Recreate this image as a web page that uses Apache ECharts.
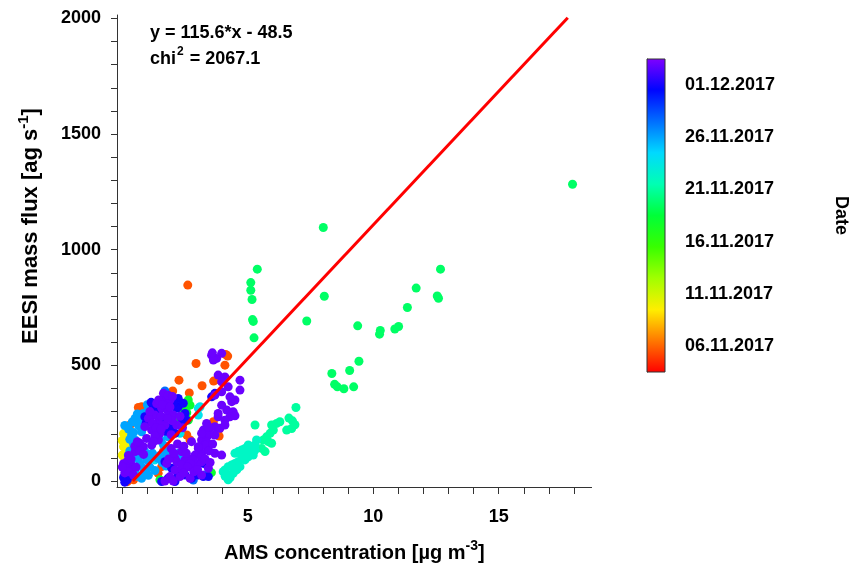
<!DOCTYPE html>
<html>
<head>
<meta charset="utf-8">
<script src="https://cdn.jsdelivr.net/npm/echarts@6/dist/echarts.min.js"></script>
<style>
html,body{margin:0;padding:0;background:#fff;}
#chart{width:860px;height:569px;}
</style>
</head>
<body>
<div id="chart"></div>
<script>
// ---------- DATA (AMS concentration [ug m-3], EESI mass flux [ag s-1]) ----------
// date value = days since 01.11.2017 00:00
const orangeNov05 = [[2.61,847],[2.94,508],[2.26,436],[3.18,412],[2.67,381],[2.01,389],[4.09,501],[4.12,547],[4.2,540],[3.64,432],[3.89,436],[1.69,379],[0.77,321],[0.64,318],[0.31,242],[3.63,256],[3.85,222],[3.86,194],[2.57,199],[2.70,177],[1.57,62],[1.43,33],[0.2,-3],[0.45,5],[1.63,127]];
const yellowNov09 = [[0.05,205],[0.15,190],[0.0,175],[0.2,168],[0.05,148],[0.15,130],[0.0,112],[0.1,95],[0.22,150]];
const greenNov17 = [[2.63,350],[2.70,328],[2.43,307],[2.37,271],[2.63,263],[2.50,280],[2.57,295],[2.2,255],[3.55,36],[1.5,5]];
const springNov19 = [[17.94,1283],[8.01,1096],[5.38,916],[5.12,858],[5.12,825],[5.17,785],[5.19,698],[5.22,690],[5.25,619],[8.05,799],[7.35,692],[12.68,916],[12.6,790],[12.55,800],[11.71,834],[11.36,750],[11.01,668],[10.86,657],[10.28,651],[10.25,635],[9.38,671],[9.43,518],[9.06,478],[9.22,407],[8.35,465],[8.46,418],[8.57,407],[8.83,399]];
const tealNov20 = [[6.92,318],[6.64,272],[6.78,260],[6.88,243],[6.55,220],[6.75,227],[6.28,256],[6.15,249],[5.95,242],[6.02,220],[5.89,206],[5.29,242],[5.75,191],[5.62,177],[5.82,170],[5.95,163],[5.55,141],[5.69,127]];
const tealNov21 = [[5.35,177],[5.29,156],[5.16,148],[5.02,156],[4.89,141],[4.76,134],[4.62,127],[4.49,120],[5.09,120],[5.22,112],[5.29,134],[5.02,105],[4.89,91],[4.76,98],[4.62,83],[4.49,76],[4.36,69],[4.22,62],[4.09,48],[4.02,40],[4.22,26],[4.42,33],[4.56,48],[4.69,62],[4.82,112],[4.96,127],[4.22,5],[4.3,15],[4.1,20],[4.45,55]];
const cyanNov23 = [[3.03,314],[3.10,321],[3.03,285],[1.04,98],[1.30,91],[2.30,206]];
const lightBlueNov25 = [[0.51,271],[0.64,242],[0.77,213],[0.37,199],[0.51,177],[0.90,127],[1.17,112],[0.97,91],[0.64,98],[0.24,112],[0.84,55],[0.51,40],[0.77,12],[1.04,25],[1.04,314],[0.84,292],[1.0,330],[1.44,98],[1.70,120],[1.83,191],[1.55,175],[1.2,120],[1.4,100],[1.6,80],[1.75,65],[2.25,120],[2.3,95],[0.1,240],[0.25,225],[0.4,255],[0.6,290],[0.3,130],[0.45,160],
  [0.3,180],[0.45,210],[0.7,270],[0.75,230],[0.6,140],[0.4,95],[0.55,115],[0.7,75],[1.1,60],[1.3,45],[1.5,110],[1.85,140],[2.0,120],[1.65,155],[0.9,30],[0.6,20]];
const midBlueNov27 = [[2.83,4],[3.22,23],[1.70,389],[3.29,26]];
const blueNov30 = [[1.24,321],[2.23,321],[1.63,249],[2.50,292],[2.10,206],[2.56,263],[0.90,278],[2.23,357],[2.43,336],[2.17,314],[3.56,364],[3.69,379],[1.70,83],[1.97,55],[2.23,26],[1.83,12],[2.50,26],[2.76,12],[3.03,26],[2.10,-2],[1.57,-2],[3.23,19],[3.43,19],[3.23,76],[0.05,15],[0.2,5],[0.3,25],[0.1,-5],[1.35,300],[1.9,230],
  [1.45,320],[1.15,340],[2.05,340],[1.75,215],[0.95,250],[2.35,250]];
const violetDec02 = [[1.70,357],[1.90,350],[1.57,314],[1.83,300],[2.03,285],[1.30,285],[1.04,271],[1.44,256],[1.70,242],[2.17,242],[1.17,220],[1.50,206],[0.97,184],[0.70,163],[0.51,127],[0.84,148],[1.17,155],[1.44,177],[1.83,335],[1.37,335],[1.64,379],[1.83,371],[2.0,365],[1.45,350],
  [1.1,300],[1.2,250],[1.35,230],[1.55,280],[1.6,330],[1.9,320],[2.0,260],[1.95,200],[1.3,195],[0.9,235],[1.55,225],[1.8,270],[2.3,280],[2.4,230],[1.25,170],
  [3.56,544],[3.76,530],[3.96,552],[3.63,523],[3.59,554],[3.82,458],[4.09,450],[3.96,429],[4.69,393],[4.69,436],[4.49,350],[4.36,343],[4.22,407],[4.29,364],[4.16,307],[4.42,299],[4.29,278],[3.82,278],[4.09,263],[3.69,235],[3.89,228],[4.09,242],[3.36,249],[3.49,228],[3.23,220],[3.29,191],[3.43,199],[3.16,177],[3.69,120],[3.96,112],[3.82,292],[4.49,282],[3.36,148],[3.16,120],[3.96,386],[3.69,371],[3.96,328],[3.43,235],[3.16,206],[3.69,199],[3.36,170],
  [2.76,170],[3.03,141],[3.29,155],[2.36,127],[2.63,98],[2.90,69],[3.16,83],[3.43,55],[1.77,76],[2.10,48],[2.30,19],[1.90,19],[2.17,83],[2.50,91],[2.76,62],[2.96,76],[3.16,26],[2.70,12],[2.37,55],[1.70,0],[2.03,0],[2.36,69],[2.10,98],[3.03,148],[2.9,112],[2.83,91],[3.16,105],[2.70,76],
  [1.95,140],[2.2,160],[2.45,150],[2.55,120],[2.6,60],[2.85,40],[3.0,50],[2.45,35],[1.85,95],[2.05,120],[3.3,95],[3.45,130],[3.6,160],[3.5,80],
  [0.05,75],[0.2,85],[0.35,70],[0.15,55],[0.4,50],[0.1,35],[0.55,60],[0.5,150],[0.7,130],[0.85,115],[0.6,170],[0.25,40],[0.35,95],[0.0,60],[0.45,25],[0.25,110]];

const groupArrays = [orangeNov05, yellowNov09, greenNov17, springNov19, tealNov20, tealNov21, cyanNov23, lightBlueNov25, midBlueNov27, blueNov30, violetDec02];
const groupDays   = [4.6, 8.8, 17.0, 18.6, 20.0, 21.2, 22.8, 25.0, 26.5, 30.0, 32.0];

const fitLine = [[0.42, 0], [17.75, 2003]];

const xTicks = [0,1,2,3,4,5,6,7,8,9,10,11,12,13,14,15,16,17,18];
const xLabels = [0, 5, 10, 15];
const yTicks = [0,100,200,300,400,500,600,700,800,900,1000,1100,1200,1300,1400,1500,1600,1700,1800,1900,2000];
const yLabels = [0, 500, 1000, 1500, 2000];

const colorbarSpan = [[0, 2.5, 32.5]];
const colorbarTicks = [5, 10, 15, 20, 25, 30];
const colorbarLabels = ['06.11.2017', '11.11.2017', '16.11.2017', '21.11.2017', '26.11.2017', '01.12.2017'];
const rainbow = ['#ff0000','#ff7700','#ffee00','#a1ff00','#38ff00','#00ff38','#00ffb3','#00d9ff','#006eff','#0005ff','#8000ff'];

// ---------- CHART ----------
const FONT = '"Liberation Sans", Arial, sans-serif';
const scatterData = [];
groupArrays.forEach((arr, i) => arr.forEach(p => scatterData.push([p[0], p[1], groupDays[i]])));

const chart = echarts.init(document.getElementById('chart'), null, {renderer: 'canvas'});
const labelStyle = {fontFamily: FONT, fontWeight: 'bold', fontSize: 18, color: '#000'};
const nameRich = {
  t: {fontFamily: FONT, fontWeight: 'bold', fontSize: 20, color: '#000', lineHeight: 24, verticalAlign: 'bottom'},
  s: {fontFamily: FONT, fontWeight: 'bold', fontSize: 14, color: '#000', lineHeight: 14, verticalAlign: 'top', padding: [0, 0, 12, 0]}
};
const yNameRich = {
  t: {fontFamily: FONT, fontWeight: 'bold', fontSize: 22, color: '#000', lineHeight: 26, verticalAlign: 'bottom'},
  s: {fontFamily: FONT, fontWeight: 'bold', fontSize: 15, color: '#000', lineHeight: 15, verticalAlign: 'top', padding: [0, 0, 13, 0]}
};

const option = {
  backgroundColor: '#fff',
  animation: false,
  grid: [
    {left: 117, top: 15, width: 474.6, height: 472, outerBoundsMode: 'none', containLabel: false},
    {left: 647, top: 59, width: 18, height: 313, outerBoundsMode: 'none', containLabel: false}
  ],
  xAxis: [
    {
      type: 'value', gridIndex: 0, min: -0.21, max: 18.7,
      axisLine: {show: true, onZero: false, lineStyle: {color: '#333', width: 1}},
      axisTick: {show: true, inside: false, length: 7, customValues: xTicks, lineStyle: {color: '#333'}},
      axisLabel: Object.assign({customValues: xLabels, margin: 21, formatter: v => String(v)}, labelStyle),
      splitLine: {show: false},
      name: '{t|AMS concentration [µg m}{s|-3}{t|]}',
      nameLocation: 'middle', nameGap: 52,
      nameTextStyle: {rich: nameRich}
    },
    {type: 'value', gridIndex: 1, min: 0, max: 1, show: false}
  ],
  yAxis: [
    {
      type: 'value', gridIndex: 0, min: -26, max: 2015,
      axisLine: {show: true, onZero: false, lineStyle: {color: '#333', width: 1}},
      axisTick: {show: true, inside: false, length: 6, customValues: yTicks, lineStyle: {color: '#333'}},
      axisLabel: Object.assign({customValues: yLabels, margin: 16, formatter: v => String(v)}, labelStyle),
      splitLine: {show: false},
      name: '{t|EESI mass flux [ag s}{s|-1}{t|]}',
      nameLocation: 'middle', nameGap: 75,
      nameTextStyle: {rich: yNameRich, padding: [0, 0, 0, 50]}
    },
    {
      type: 'value', gridIndex: 1, min: 2.5, max: 32.5, position: 'right',
      axisLine: {show: true, lineStyle: {color: '#333', width: 1}},
      axisTick: {show: true, inside: false, length: 12, customValues: colorbarTicks, lineStyle: {color: '#000'}},
      axisLabel: Object.assign({customValues: colorbarTicks, margin: 20,
        formatter: v => colorbarLabels[colorbarTicks.indexOf(v)]}, labelStyle),
      splitLine: {show: false},
      name: 'Date', nameLocation: 'middle', nameRotate: -90, nameGap: 167,
      nameTextStyle: {fontFamily: FONT, fontWeight: 'bold', fontSize: 18, color: '#000'}
    }
  ],
  visualMap: {
    type: 'continuous', show: false, dimension: 2, seriesIndex: 0,
    min: 2.5, max: 32.5, inRange: {color: rainbow}
  },
  series: [
    {
      type: 'scatter', xAxisIndex: 0, yAxisIndex: 0, data: scatterData,
      symbol: 'circle', symbolSize: 9, itemStyle: {opacity: 1}, silent: true, z: 2
    },
    {
      type: 'line', xAxisIndex: 0, yAxisIndex: 0, data: fitLine,
      symbol: 'none', showSymbol: false, silent: true, z: 5,
      lineStyle: {color: '#ff0000', width: 3}
    },
    {
      type: 'custom', xAxisIndex: 1, yAxisIndex: 1, data: colorbarSpan,
      encode: {x: 0, y: [1, 2]}, silent: true, z: 3,
      renderItem: function (params, api) {
        const lo = api.coord([0, api.value(1)]);
        const hi = api.coord([1, api.value(2)]);
        const stops = rainbow.map((c, i) => ({offset: i / (rainbow.length - 1), color: c}));
        return {
          type: 'rect',
          shape: {x: lo[0], y: hi[1], width: hi[0] - lo[0], height: lo[1] - hi[1]},
          style: {fill: new echarts.graphic.LinearGradient(0, 1, 0, 0, stops), stroke: '#333', lineWidth: 1}
        };
      }
    }
  ],
  graphic: [
    {
      type: 'text', x: 150, y: 33, silent: true,
      style: {text: 'y = 115.6*x - 48.5', font: 'bold 18px ' + FONT, fill: '#000',
        align: 'left', verticalAlign: 'middle', textAlign: 'left', textVerticalAlign: 'middle'}
    },
    {
      type: 'text', x: 150, y: 57, silent: true,
      style: {
        text: '{m|chi}{s|2}{m| = 2067.1}', fill: '#000',
        align: 'left', verticalAlign: 'middle', textAlign: 'left', textVerticalAlign: 'middle',
        rich: {
          m: {fontFamily: FONT, fontWeight: 'bold', fontSize: 18, lineHeight: 22, verticalAlign: 'bottom', fill: '#000'},
          s: {fontFamily: FONT, fontWeight: 'bold', fontSize: 12, lineHeight: 12, verticalAlign: 'top', padding: [0, 1, 12, 1], fill: '#000'}
        }
      }
    }
  ]
};
chart.setOption(option);
</script>
</body>
</html>
